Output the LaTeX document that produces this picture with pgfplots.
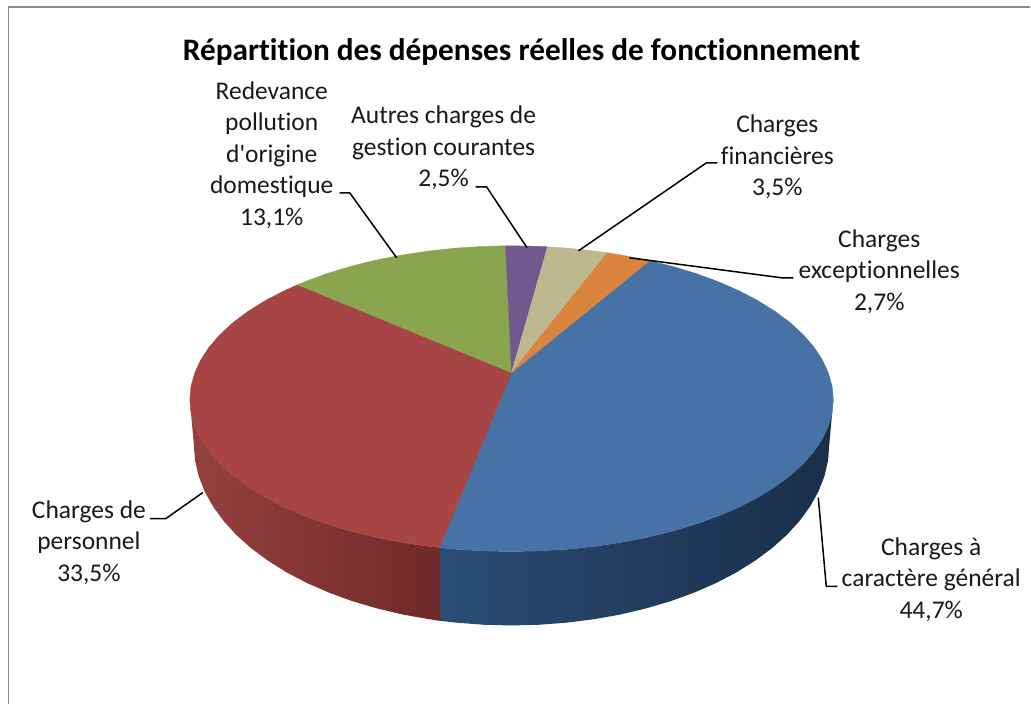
\documentclass[border=0pt]{standalone}
\usepackage{pgfplots}
\pgfplotsset{compat=1.18}
\usepackage{fontspec}
\newfontfamily\calfont{Carlito}[Ligatures=NoCommon]
\definecolor{cblue}{HTML}{4672A6}
\definecolor{cred}{HTML}{A64543}
\definecolor{cgreen}{HTML}{89A54E}
\definecolor{cpurple}{HTML}{71588F}
\definecolor{ctan}{HTML}{BDB88F}
\definecolor{corange}{HTML}{DB843D}
\definecolor{bsL}{HTML}{2A4D75}
\definecolor{bsM}{HTML}{1C3350}
\definecolor{bsR}{HTML}{1A2E49}
\definecolor{rsL}{HTML}{95403E}
\definecolor{rsM}{HTML}{823534}
\definecolor{rsR}{HTML}{6F2A29}
\definecolor{cborder}{HTML}{8C8C8C}
\tikzset{
  lab/.style={align=center, anchor=center, font=\calfont\fontsize{25.5}{31.5}\selectfont, text=black!90, inner sep=0pt},
  lead/.style={black, line width=1.5pt, line join=round},
}
\begin{document}
\begin{tikzpicture}
\begin{axis}[
  width=1031pt, height=705pt, scale only axis,
  xmin=0, xmax=1031, ymin=0, ymax=705, y dir=reverse,
  hide axis, clip=false,
  every axis plot/.append style={mark=none},
]
% frame
\addplot[draw=none, forget plot] coordinates {(0,0) (1031,705)};
\addplot[cborder, line width=1.8pt] coordinates {(8.5,705) (8.5,7) (1031,7)};

% sides
\addplot[draw=none, left color=bsL, middle color=bsM, right color=bsR] coordinates {
(834,400)(832.8,413.3)(829.1,426.4)(823,439.3)(814.6,452)(803.8,464.2)(790.9,476)(775.8,487.2)(758.7,497.7)(739.7,507.5)(719,516.4)(696.7,524.5)(673,531.6)(648.1,537.8)(622.1,542.8)(595.3,546.8)(567.9,549.7)(540.1,551.4)(512,552)(483.9,551.4)(456.1,549.7)(440,548)
(440.5,621.4)(456.8,623.2)(484.3,625.3)(512,626)(539.7,625.3)(567.2,623.2)(594.3,619.8)(620.8,615.1)(646.4,609)(671,601.8)(694.4,593.3)(716.4,583.7)(736.9,573)(755.6,561.3)(772.5,548.8)(787.4,535.5)(800.2,521.5)(810.8,506.9)(819.2,491.8)(825.2,476.4)(828.8,460.8)(830,445)
};
\addplot[draw=none, left color=rsL, middle color=rsM, right color=rsR] coordinates {
(440,548)(428.7,546.8)(401.9,542.8)(375.9,537.8)(351,531.6)(327.3,524.5)(305,516.4)(284.3,507.5)(265.3,497.7)(248.2,487.2)(233.1,476)(220.2,464.2)(209.4,452)(201,439.3)(194.9,426.4)(191.2,413.3)(190,400)
(194,445)(195.2,460.8)(198.8,476.4)(204.8,491.8)(213.2,506.9)(223.8,521.5)(236.6,535.5)(251.5,548.8)(268.4,561.3)(287.1,573)(307.6,583.7)(329.6,593.3)(353,601.8)(377.6,609)(403.2,615.1)(429.7,619.8)(440.5,621.4)
};

% top wedges
\addplot[fill=cblue, draw=cblue, line width=.4pt] coordinates {
(512,373)(650,261)(673,266.6)(696.7,273.8)(719,282)(739.7,291.1)(758.7,301)(775.8,311.7)(790.9,323)(803.8,334.9)(814.6,347.3)(823,360.1)(829.1,373.3)(832.8,386.6)(834,400)
(832.8,413.3)(829.1,426.4)(823,439.3)(814.6,452)(803.8,464.2)(790.9,476)(775.8,487.2)(758.7,497.7)(739.7,507.5)(719,516.4)(696.7,524.5)(673,531.6)(648.1,537.8)(622.1,542.8)(595.3,546.8)(567.9,549.7)(540.1,551.4)(512,552)(483.9,551.4)(456.1,549.7)(440,548)(512,373)
};
\addplot[fill=cred, draw=cred, line width=.4pt] coordinates {
(512,373)(440,548)(428.7,546.8)(401.9,542.8)(375.9,537.8)(351,531.6)(327.3,524.5)(305,516.4)(284.3,507.5)(265.3,497.7)(248.2,487.2)(233.1,476)(220.2,464.2)(209.4,452)(201,439.3)(194.9,426.4)(191.2,413.3)(190,400)
(191.2,386.6)(194.9,373.3)(201,360.1)(209.4,347.3)(220.2,334.9)(233.1,323)(248.2,311.7)(265.3,301)(284.3,291.1)(298,285)(512,373)
};
\addplot[fill=cgreen, draw=cgreen, line width=.4pt] coordinates {
(512,373)(298,285)(305,282)(327.3,273.8)(351,266.6)(375.9,260.4)(401.9,255.3)(428.7,251.3)(456.1,248.3)(483.9,246.6)(506,246)(512,373)
};
\addplot[fill=cpurple, draw=cpurple, line width=.4pt] coordinates {
(512,373)(506,246)(512,246)(540.1,246.6)(548,247)(512,373)
};
\addplot[fill=ctan, draw=ctan, line width=.4pt] coordinates {
(512,373)(548,247)(567.9,248.3)(595.3,251.3)(608,253)(512,373)
};
\addplot[fill=corange, draw=corange, line width=.4pt] coordinates {
(512,373)(608,253)(622.1,255.3)(648.1,260.4)(650,261)(512,373)
};

% leader lines
\addplot[lead] coordinates {(340,193)(350,193)(397,258)};
\addplot[lead] coordinates {(476,187)(487,187)(527.5,248)};
\addplot[lead] coordinates {(718,163)(707,163)(579,251)};
\addplot[lead] coordinates {(794,278)(782,278)(630,258)};
\addplot[lead] coordinates {(838,587)(827,587)(819,498)};
\addplot[lead] coordinates {(150,519)(166,519)(203,493)};

% text
\node[anchor=center, font=\calfont\bfseries\fontsize{31.3}{36}\selectfont, inner sep=0pt] at (axis cs:522,52) {Répartition des dépenses réelles de fonctionnement};
\node[lab] at (axis cs:272,155) {Redevance\\pollution\\d'origine\\domestique\\13,1\%};
\node[lab] at (axis cs:444,148) {Autres charges de\\gestion courantes\\2,5\%};
\node[lab] at (axis cs:778,157) {Charges\\financières\\3,5\%};
\node[lab] at (axis cs:880,272) {Charges\\exceptionnelles\\2,7\%};
\node[lab] at (axis cs:932,580) {Charges à\\caractère général\\44,7\%};
\node[lab] at (axis cs:89,543) {Charges de\\personnel\\33,5\%};
\end{axis}
\end{tikzpicture}
\end{document}
